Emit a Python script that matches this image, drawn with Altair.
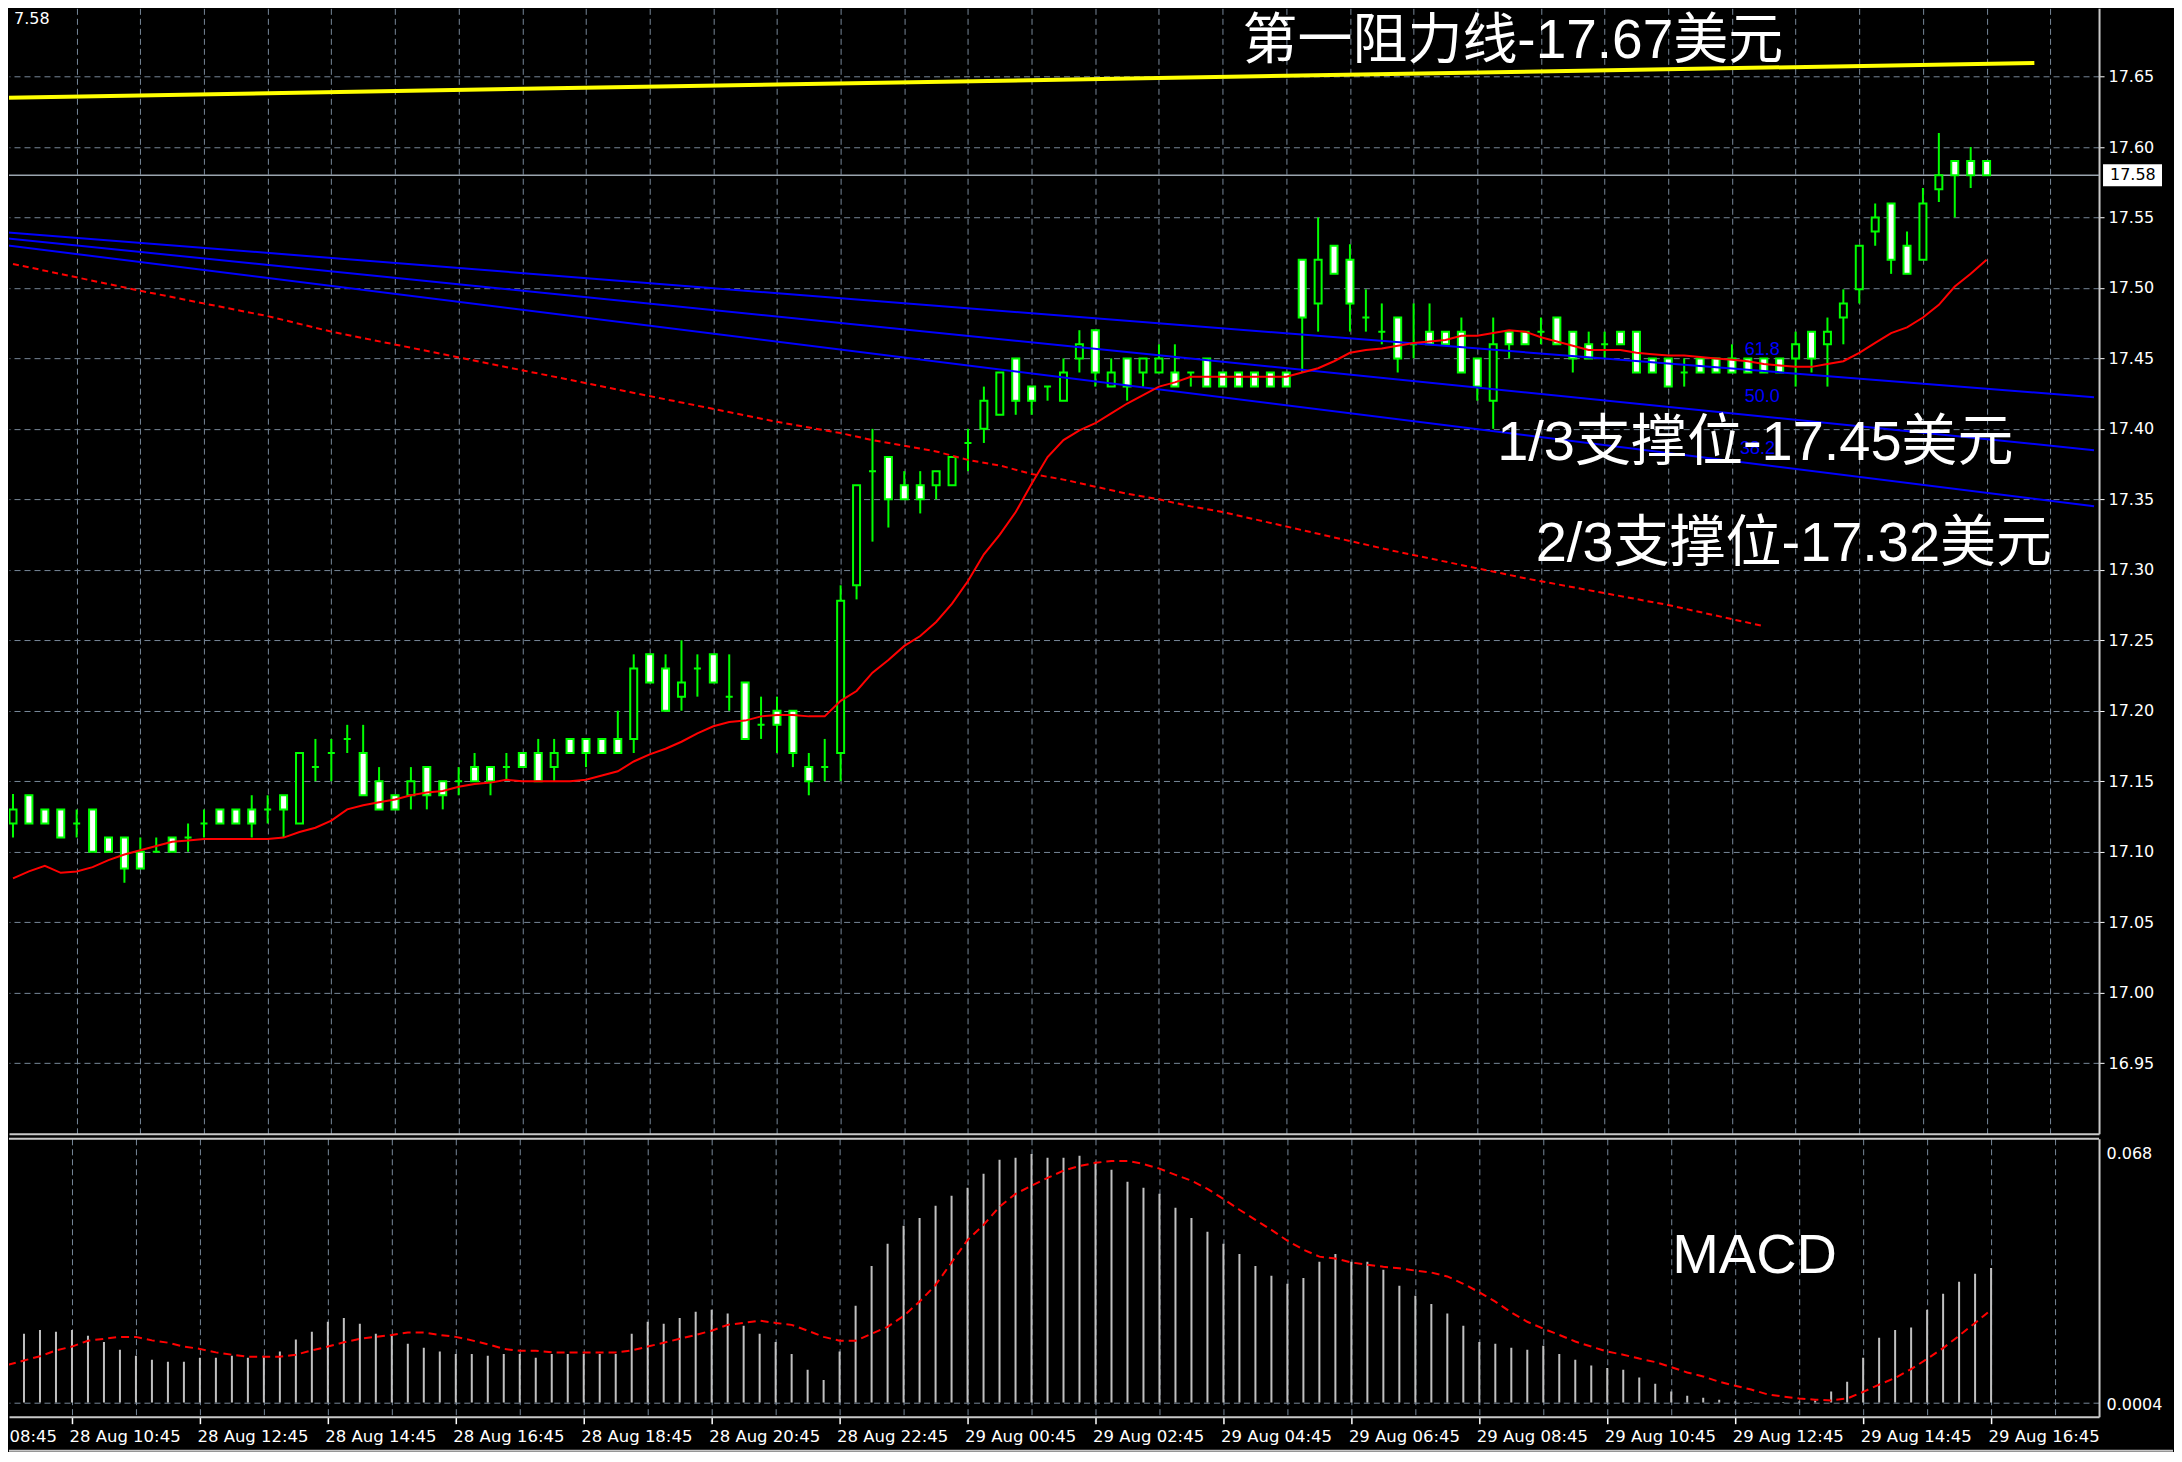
import json
import altair as alt
import pandas as pd

# ---------------- data ----------------
opens = [17.120,17.140,17.130,17.130,17.120,17.130,17.110,17.110,17.100,17.100,
         17.110,17.110,17.120,17.130,17.130,17.130,17.130,17.140,17.120,17.160,
         17.170,17.180,17.170,17.150,17.140,17.140,17.160,17.150,17.150,17.160,
         17.160,17.160,17.170,17.170,17.160,17.180,17.180,17.180,17.180,17.180,
         17.240,17.230,17.210,17.230,17.240,17.210,17.220,17.190,17.200,17.200,
         17.160,17.160,17.170,17.289,17.370,17.380,17.360,17.360,17.360,17.360,
         17.390,17.400,17.410,17.450,17.430,17.430,17.420,17.450,17.470,17.430,
         17.450,17.440,17.440,17.440,17.440,17.450,17.440,17.440,17.440,17.440,
         17.440,17.520,17.489,17.530,17.520,17.479,17.469,17.479,17.460,17.469,
         17.469,17.469,17.450,17.420,17.469,17.469,17.469,17.479,17.469,17.460,
         17.460,17.469,17.469,17.450,17.450,17.440,17.450,17.450,17.450,17.450,
         17.450,17.450,17.450,17.469,17.460,17.479,17.499,17.540,17.560,17.530,
         17.520,17.570,17.590,17.590,17.590]
highs = [17.141,17.140,17.130,17.130,17.130,17.130,17.110,17.110,17.110,17.110,
         17.110,17.120,17.130,17.130,17.130,17.140,17.140,17.140,17.170,17.180,
         17.180,17.190,17.190,17.160,17.140,17.160,17.160,17.150,17.160,17.170,
         17.160,17.170,17.170,17.180,17.180,17.180,17.180,17.180,17.200,17.240,
         17.240,17.240,17.250,17.240,17.240,17.240,17.220,17.210,17.210,17.200,
         17.170,17.180,17.289,17.360,17.400,17.380,17.370,17.370,17.370,17.380,
         17.400,17.430,17.440,17.450,17.430,17.430,17.450,17.470,17.470,17.450,
         17.450,17.450,17.460,17.460,17.440,17.450,17.440,17.440,17.440,17.440,
         17.440,17.520,17.550,17.530,17.531,17.499,17.489,17.479,17.489,17.489,
         17.469,17.479,17.450,17.479,17.469,17.469,17.479,17.479,17.469,17.469,
         17.469,17.469,17.469,17.450,17.450,17.450,17.450,17.450,17.460,17.450,
         17.450,17.450,17.469,17.469,17.479,17.499,17.530,17.560,17.560,17.540,
         17.571,17.610,17.590,17.600,17.590]
lows = [17.110,17.120,17.120,17.110,17.110,17.100,17.100,17.078,17.088,17.100,
        17.100,17.100,17.110,17.120,17.120,17.110,17.120,17.110,17.120,17.150,
        17.150,17.170,17.140,17.130,17.130,17.130,17.130,17.130,17.140,17.150,
        17.140,17.150,17.160,17.150,17.150,17.170,17.160,17.170,17.170,17.170,
        17.220,17.200,17.200,17.210,17.220,17.200,17.180,17.180,17.170,17.160,
        17.140,17.150,17.150,17.279,17.320,17.330,17.350,17.340,17.350,17.360,
        17.370,17.390,17.410,17.410,17.410,17.420,17.420,17.440,17.430,17.430,
        17.420,17.430,17.440,17.430,17.430,17.430,17.430,17.430,17.430,17.430,
        17.430,17.440,17.469,17.510,17.469,17.469,17.460,17.440,17.450,17.460,
        17.460,17.440,17.420,17.400,17.450,17.460,17.460,17.460,17.440,17.450,
        17.450,17.460,17.440,17.440,17.430,17.430,17.440,17.440,17.440,17.440,
        17.440,17.440,17.430,17.440,17.430,17.460,17.489,17.530,17.510,17.510,
        17.520,17.561,17.550,17.571,17.580]
closes = [17.130,17.120,17.120,17.110,17.120,17.100,17.100,17.088,17.088,17.100,
          17.100,17.110,17.120,17.120,17.120,17.120,17.130,17.130,17.170,17.160,
          17.170,17.180,17.140,17.130,17.130,17.150,17.140,17.140,17.150,17.150,
          17.150,17.160,17.160,17.150,17.170,17.170,17.170,17.170,17.170,17.230,
          17.220,17.200,17.220,17.230,17.220,17.210,17.180,17.190,17.190,17.170,
          17.150,17.160,17.278,17.360,17.370,17.350,17.350,17.350,17.370,17.380,
          17.390,17.420,17.440,17.420,17.420,17.430,17.440,17.460,17.440,17.440,
          17.430,17.450,17.450,17.430,17.440,17.430,17.430,17.430,17.430,17.430,
          17.430,17.479,17.520,17.510,17.489,17.479,17.469,17.450,17.460,17.460,
          17.460,17.440,17.430,17.460,17.460,17.460,17.469,17.460,17.450,17.450,
          17.460,17.460,17.440,17.440,17.430,17.440,17.440,17.440,17.440,17.440,
          17.440,17.440,17.460,17.450,17.469,17.489,17.530,17.550,17.520,17.510,
          17.560,17.580,17.580,17.580,17.580]
ma_fast = [17.081,17.086,17.090,17.085,17.086,17.089,17.094,17.098,17.101,17.104,
           17.107,17.108,17.109,17.109,17.109,17.109,17.109,17.110,17.114,17.117,
           17.122,17.130,17.133,17.135,17.137,17.140,17.142,17.143,17.146,17.148,
           17.149,17.151,17.150,17.150,17.150,17.150,17.151,17.154,17.157,17.164,
           17.169,17.173,17.178,17.184,17.189,17.192,17.193,17.196,17.197,17.197,
           17.196,17.196,17.207,17.214,17.227,17.236,17.246,17.253,17.263,17.276,
           17.292,17.311,17.325,17.341,17.361,17.380,17.392,17.399,17.404,17.411,
           17.418,17.424,17.430,17.433,17.437,17.437,17.437,17.437,17.437,17.437,
           17.437,17.440,17.443,17.448,17.454,17.456,17.457,17.459,17.461,17.462,
           17.463,17.466,17.466,17.468,17.470,17.469,17.465,17.462,17.459,17.456,
           17.456,17.456,17.454,17.453,17.452,17.452,17.451,17.450,17.449,17.448,
           17.446,17.445,17.444,17.444,17.446,17.448,17.454,17.461,17.468,17.472,
           17.479,17.488,17.501,17.510,17.520]
ma_slow_idx = [0, 8, 16, 20, 48, 52, 54, 56, 58, 60, 62, 64, 66, 68, 70, 72, 74, 76, 86.5, 95, 104, 110]
ma_slow_val = [17.517, 17.498, 17.480, 17.469, 17.405, 17.397, 17.392, 17.388, 17.384, 17.378,
               17.374, 17.368, 17.364, 17.359, 17.354, 17.350, 17.345, 17.341, 17.314, 17.294,
               17.275, 17.260]
macd_hist = [.0177,.0177,.0187,.0182,.0187,.0172,.0156,.0136,.0120,.0110,
             .0105,.0105,.0115,.0115,.0120,.0115,.0120,.0131,.0162,.0182,
             .0208,.0218,.0203,.0177,.0172,.0151,.0141,.0131,.0125,.0125,
             .0120,.0125,.0125,.0115,.0125,.0125,.0125,.0125,.0125,.0177,
             .0208,.0203,.0218,.0234,.0239,.0229,.0198,.0177,.0156,.0125,
             .0084,.0058,.0131,.0249,.0352,.0409,.0456,.0476,.0507,.0533,
             .0554,.0590,.0626,.0631,.0641,.0631,.0631,.0636,.0621,.0600,
             .0569,.0554,.0538,.0502,.0476,.0440,.0409,.0383,.0352,.0327,
             .0306,.0321,.0363,.0383,.0363,.0363,.0342,.0301,.0275,.0254,
             .0229,.0198,.0156,.0151,.0141,.0136,.0146,.0125,.0110,.0095,
             .0089,.0084,.0064,.0048,.0028,.0017,.0012,.0007,.0002,.0001,
             .0000,.0001,.0002,.0005,.0028,.0053,.0115,.0167,.0187,.0193,
             .0239,.0280,.0311,.0332,.0347]
macd_signal = [.0097,.0108,.0119,.0134,.0144,.0159,.0164,.0169,.0169,.0160,
               .0154,.0144,.0138,.0129,.0123,.0118,.0118,.0118,.0123,.0134,
               .0144,.0155,.0164,.0169,.0174,.0180,.0180,.0174,.0169,.0160,
               .0150,.0138,.0133,.0133,.0129,.0129,.0129,.0129,.0129,.0134,
               .0144,.0154,.0164,.0174,.0185,.0200,.0205,.0211,.0205,.0200,
               .0185,.0169,.0159,.0159,.0177,.0195,.0223,.0260,.0303,.0361,
               .0419,.0458,.0505,.0538,.0559,.0579,.0598,.0610,.0618,.0623,
               .0623,.0615,.0603,.0587,.0572,.0551,.0525,.0497,.0471,.0445,
               .0417,.0394,.0376,.0371,.0361,.0355,.0350,.0346,.0340,.0335,
               .0325,.0306,.0284,.0260,.0232,.0208,.0190,.0174,.0157,.0144,
               .0131,.0123,.0113,.0104,.0091,.0077,.0067,.0053,.0043,.0033,
               .0021,.0015,.0010,.0007,.0005,.0010,.0027,.0046,.0063,.0086,
               .0112,.0140,.0172,.0205,.0239]

fan_names = ["61.8", "61.8", "50.0", "50.0", "38.2", "38.2"]
fan_idx = [-0.44, 130.75, -0.44, 130.75, -0.44, 130.75]
fan_price = [17.5395, 17.4225, 17.5352, 17.3849, 17.5303, 17.3451]
fib_text = ["61.8", "50.0", "38.2"]
fib_idx = [109.9, 109.9, 109.6]
fib_price = [17.456, 17.4226, 17.386]
resist_idx = [-0.44, 127.0]
resist_price = [17.635, 17.6596]
last_price = 17.58

annot_text = ["第一阻力线-17.67美元", "1/3支撑位-17.45美元", "2/3支撑位-17.32美元"]
annot_idx = [77.25, 93.25, 95.67]
annot_price = [17.6630, 17.3778, 17.3062]
annot_size = [55, 56, 56]

price_ticks = [16.95, 17.00, 17.05, 17.10, 17.15, 17.20, 17.25, 17.30, 17.35,
               17.40, 17.45, 17.50, 17.55, 17.60, 17.65]
time_labels = ["28 Aug 10:45", "28 Aug 12:45", "28 Aug 14:45", "28 Aug 16:45",
               "28 Aug 18:45", "28 Aug 20:45", "28 Aug 22:45", "29 Aug 00:45",
               "29 Aug 02:45", "29 Aug 04:45", "29 Aug 06:45", "29 Aug 08:45",
               "29 Aug 10:45", "29 Aug 12:45", "29 Aug 14:45", "29 Aug 16:45"]
first_label = "08:45"

# ---------------- layout / style ----------------
X0, X1 = 0.0625, 130.75
P0, P1 = 16.8998, 17.6984
M0, M1 = -0.00369, 0.0680
W, H_MAIN, H_MACD = 2091, 1126, 278
FULL_W = 2165
GRID = "#778899"
BORDER = "#c8c8c8"
LIME = "#00ff00"
FONT_SMALL = "DejaVu Sans"
FONT_BIG = "Liberation Sans, Noto Sans CJK SC"

n = len(opens)
idx = list(range(n))
cdf = pd.DataFrame({"i": idx, "open": opens, "high": highs, "low": lows,
                    "close": closes, "ma": ma_fast})
cdf["fillc"] = ["#000000" if c > o else "#ffffff" for o, c in zip(opens, closes)]

xscale = alt.Scale(domain=[X0, X1], nice=False, zero=False)
pscale = alt.Scale(domain=[P0, P1], nice=False, zero=False)
grid_idx = list(range(4, 129, 4))

x_main = alt.X("i:Q", scale=xscale, title=None,
               axis=alt.Axis(values=grid_idx, labels=False, ticks=False,
                             domain=True, domainColor=BORDER, domainWidth=2,
                             grid=True, gridColor=GRID, gridDash=[6, 4], gridWidth=1,
                             title=None))
y_main = alt.Y("low:Q", scale=pscale, title=None,
               axis=alt.Axis(orient="right", values=price_ticks, format=".2f",
                             tickSize=5, tickColor="#ffffff", tickWidth=1,
                             labelPadding=4, labelColor="#ffffff", labelOverlap=False,
                             labelFont=FONT_SMALL, labelFontSize=16,
                             domain=True, domainColor=BORDER, domainWidth=2,
                             grid=True, gridColor=GRID, gridDash=[6, 4], gridWidth=1,
                             title=None))

price_line = alt.Chart(pd.DataFrame({"p": [last_price]})).mark_rule(
    color="#9aa4ae", strokeWidth=1.5, clip=True).encode(y=alt.Y("p:Q"))

wicks = alt.Chart(cdf).mark_rule(color=LIME, strokeWidth=2, clip=True).encode(
    x=x_main, y=y_main, y2="high:Q")

bodies = alt.Chart(cdf).mark_bar(width=7, stroke=LIME, strokeWidth=2, clip=True).encode(
    x="i:Q", y="open:Q", y2="close:Q", fill=alt.Fill("fillc:N", scale=None))

fan = alt.Chart(pd.DataFrame({"i": fan_idx, "p": fan_price, "line": fan_names})).mark_line(
    color="#0000ff", strokeWidth=2, clip=True).encode(x="i:Q", y="p:Q", detail="line:N")

resist = alt.Chart(pd.DataFrame({"i": resist_idx, "p": resist_price})).mark_line(
    color="#ffff00", strokeWidth=4, clip=True).encode(x="i:Q", y="p:Q")

ma_slow = alt.Chart(pd.DataFrame({"i": ma_slow_idx, "p": ma_slow_val})).mark_line(
    color="#ff0000", strokeWidth=2, strokeDash=[6, 4], clip=True).encode(x="i:Q", y="p:Q")

ma_line = alt.Chart(cdf).mark_line(color="#ff0000", strokeWidth=2, clip=True).encode(
    x="i:Q", y="ma:Q")

fib = alt.Chart(pd.DataFrame({"i": fib_idx, "p": fib_price, "t": fib_text})).mark_text(
    color="#0000ff", font="Liberation Sans", fontSize=18, align="center",
    baseline="middle", clip=True).encode(x="i:Q", y="p:Q", text="t:N")

annot = alt.Chart(pd.DataFrame({"i": annot_idx, "p": annot_price, "t": annot_text,
                                "s": annot_size})).mark_text(
    color="#ffffff", font=FONT_BIG, align="left",
    baseline="alphabetic", clip=True).encode(
    x="i:Q", y="p:Q", text="t:N", size=alt.Size("s:Q", scale=None, legend=None))

corner = alt.Chart(pd.DataFrame({"i": [X0], "p": [17.6906], "t": ["7.58"]})).mark_text(
    color="#ffffff", font=FONT_SMALL, fontSize=16, align="left",
    baseline="middle", clip=True).encode(x="i:Q", y="p:Q", text="t:N")

box_df = pd.DataFrame({"p": [last_price], "t": ["%.2f" % last_price]})
price_box = alt.Chart(box_df).transform_calculate(
    top="datum.p + 0.0078", bot="datum.p - 0.0078").mark_rect(
    color="#ffffff").encode(x=alt.value(W + 4), x2=alt.value(W + 63),
                            y="top:Q", y2="bot:Q")
price_box_text = alt.Chart(box_df).mark_text(
    color="#000000", font=FONT_SMALL, fontSize=16, align="left",
    baseline="middle").encode(x=alt.value(W + 11), y="p:Q", text="t:N")

main = alt.layer(wicks, price_line, bodies, fan, resist, ma_slow, ma_line, fib,
                 annot, corner, price_box, price_box_text).properties(
    width=W, height=H_MAIN)

# ---------------- MACD panel ----------------
mdf = pd.DataFrame({"i": idx, "h": macd_hist, "s": macd_signal})
label_expr = ("datum.value < 1 ? '%s' : (%s[(datum.value - 4) / 8] || '')"
              % (first_label, json.dumps(time_labels)))
x_macd = alt.X("i:Q", scale=xscale, title=None,
               axis=alt.Axis(values=[X0] + grid_idx, labelExpr=label_expr,
                             labelAlign="left", labelBaseline="top",
                             labelOffset={"condition": {"test": "datum.value < 1", "value": 0},
                                          "value": -3},
                             labelPadding=5, labelColor="#ffffff", labelOverlap=False,
                             labelFlush=False, labelFont=FONT_SMALL, labelFontSize=16.5,
                             tickSize=7, tickColor="#ffffff", tickWidth=1.5,
                             tickOpacity={"condition": {"test": "datum.value % 8 == 4", "value": 1},
                                          "value": 0},
                             domain=True, domainColor=BORDER, domainWidth=2,
                             grid=True, gridColor=GRID, gridDash=[6, 4], gridWidth=1,
                             gridOpacity={"condition": {"test": "datum.value < 1", "value": 0},
                                          "value": 1},
                             title=None))
y_macd = alt.Y("h:Q", scale=alt.Scale(domain=[M0, M1], nice=False, zero=False), title=None,
               axis=alt.Axis(orient="right", values=[0, 0.068],
                             labelExpr="datum.value > 0.01 ? '0.068' : '0.0004'",
                             labelOffset={"condition": {"test": "datum.value > 0.01", "value": 15},
                                          "value": 2},
                             labelBaseline="middle", labelPadding=7, tickSize=0,
                             labelColor="#ffffff", labelOverlap=False,
                             labelFont=FONT_SMALL, labelFontSize=16,
                             domain=True, domainColor=BORDER, domainWidth=2,
                             grid=True, gridColor=GRID, gridDash=[6, 4], gridWidth=1,
                             gridOpacity={"condition": {"test": "datum.value > 0.01", "value": 0},
                                          "value": 1},
                             title=None))

hist = alt.Chart(mdf).mark_rule(color="#c0c0c0", strokeWidth=2, clip=True).encode(
    x=x_macd, y=y_macd, y2=alt.datum(0))
signal = alt.Chart(mdf).mark_line(color="#ff0000", strokeWidth=2, strokeDash=[8, 5],
                                  clip=True).encode(x="i:Q", y="s:Q")
macd_label = alt.Chart(pd.DataFrame({"i": [104.06], "h": [0.03345], "t": ["MACD"]})).mark_text(
    color="#ffffff", font=FONT_BIG, fontSize=56, align="left", baseline="alphabetic",
    clip=True).encode(x="i:Q", y="h:Q", text="t:N")
one = pd.DataFrame({"k": [0]})
top_border = alt.Chart(one).mark_rule(color=BORDER, strokeWidth=2).encode(
    x=alt.value(0), x2=alt.value(W), y=alt.value(0))
bottom_border = alt.Chart(one).mark_rule(color=BORDER, strokeWidth=2).encode(
    x=alt.value(0), x2=alt.value(FULL_W), y=alt.value(312))

macd = alt.layer(hist, signal, macd_label, top_border, bottom_border).properties(
    width=W, height=H_MACD)

chart = alt.vconcat(main, macd, spacing=5, bounds="flush").resolve_scale(
    x="independent", y="independent").properties(
    padding=0, background="#000000").configure_view(strokeWidth=0)

chart.save("out.html", embed_options={"renderer": "svg", "actions": False})
